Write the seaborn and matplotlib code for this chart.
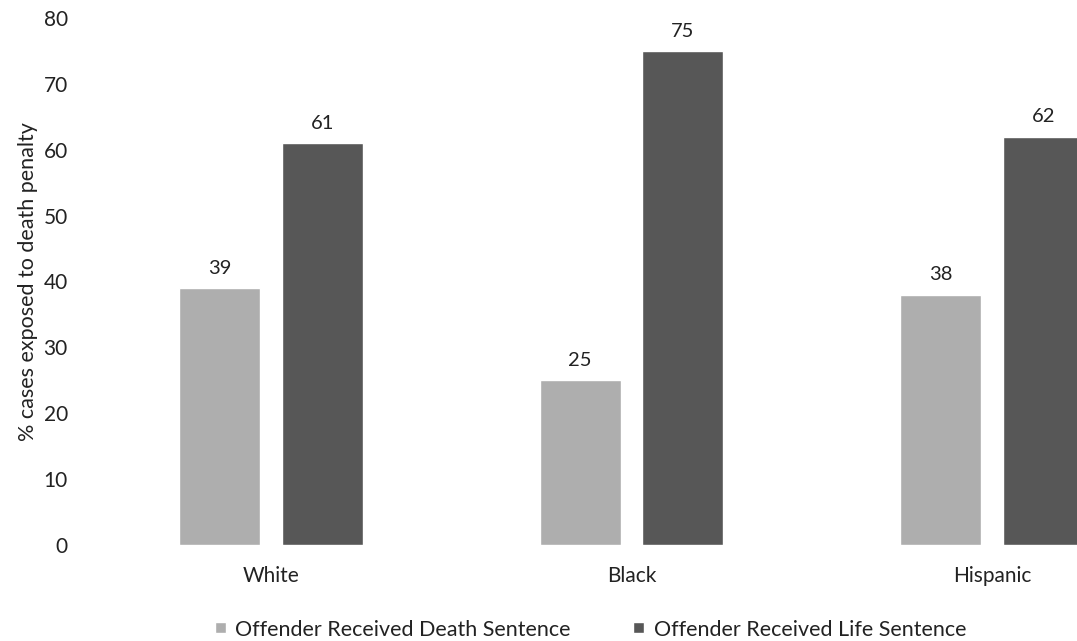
import pandas as pd
import numpy as np
import matplotlib
matplotlib.use('Agg')
import matplotlib.pyplot as plt
import seaborn as sns

# Dados
grupos = ['White', 'Black', 'Hispanic']
sentenca_morte = [39, 25, 38]
sentenca_vida = [61, 75, 62]
series = ['Offender Received Death Sentence', 'Offender Received Life Sentence']
cores = ['#aeaeae', '#575757']

df = pd.DataFrame({
    'grupo': grupos * 2,
    'valor': sentenca_morte + sentenca_vida,
    'serie': [series[0]] * 3 + [series[1]] * 3,
})

sns.set_style('white')
plt.rcParams['font.family'] = ['Lato', 'DejaVu Sans']

fig = plt.figure(figsize=(10.77, 6.41), dpi=100)
ax = fig.add_axes([0.0836, 0.150, 0.9164, 0.822])

sns.barplot(data=df, x='grupo', y='valor', hue='serie', order=grupos,
            hue_order=series, palette=cores, width=0.57, gap=0.21,
            saturation=1, ax=ax, legend=True)

# Rótulos de valor acima das barras
for cont in ax.containers:
    ax.bar_label(cont, fmt='%d', padding=8, fontsize=14.5, color='#222222')

ax.set_ylim(0, 80)
ax.set_yticks(range(0, 81, 10))
ax.set_xlim(-0.502, 2.236)
ax.tick_params(axis='x', length=0, pad=15, labelsize=15, labelcolor='#222222')
ax.tick_params(axis='y', length=0, pad=16, labelsize=15, labelcolor='#222222')
ax.set_xlabel('')
ax.set_ylabel('% cases exposed to death penalty', fontsize=15.5, labelpad=4,
              color='#222222')
sns.despine(ax=ax, left=True, bottom=True)

leg = ax.legend(loc='center', bbox_to_anchor=(0.507, -0.161), ncol=2,
                frameon=False, fontsize=15.5, handlelength=0.5, handleheight=0.5,
                handletextpad=0.45, columnspacing=2.9)
for t in leg.get_texts():
    t.set_color('#222222')
for h in leg.legend_handles:
    h.set_height(8)
    h.set_width(8)
    h.set_y(2)

plt.savefig('out.png', dpi=100)
